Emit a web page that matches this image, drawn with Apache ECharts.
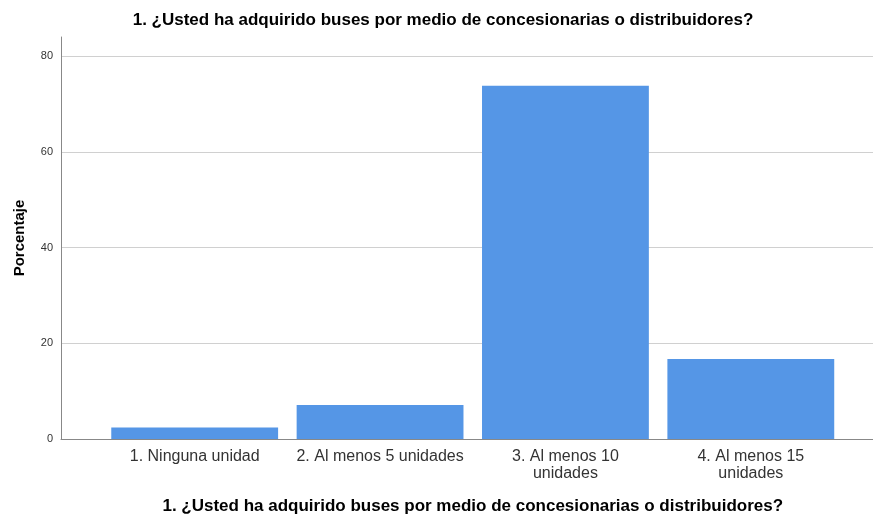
<!DOCTYPE html>
<html>
<head>
<meta charset="utf-8">
<script src="https://cdn.jsdelivr.net/npm/echarts@6/dist/echarts.min.js"></script>
<style>
  html, body { margin: 0; padding: 0; background: #fff; }
  #chart { width: 873px; height: 515px; }
</style>
</head>
<body>
<div id="chart"></div>
<script>
const titleText = "1. ¿Usted ha adquirido buses por medio de concesionarias o distribuidores?";
const categories = ["1. Ninguna unidad", "2. Al menos 5 unidades", "3. Al menos 10\nunidades", "4. Al menos 15\nunidades"];
const percentages = [2.4, 7.1, 73.8, 16.7];
const yTicks = [0, 20, 40, 60, 80];

const FONT = "Arial, 'Liberation Sans', sans-serif";

function initChart() {
  const element = document.getElementById("chart");
  const chart = echarts.init(element);
  chart.setOption({
    animation: false,
    title: {
      text: titleText,
      left: 438,
      textAlign: "center",
      top: 7,
      textStyle: { fontFamily: FONT, fontSize: 17, fontWeight: "bold", color: "#000" },
    },
    grid: [
      { left: 61, right: 0, top: 37, bottom: 76, outerBoundsMode: "none" },
      { left: 102, right: 29.5, top: 37, bottom: 76, outerBoundsMode: "none" },
    ],
    xAxis: [
      {
        type: "value",
        gridIndex: 0,
        min: 0,
        max: 1,
        axisLine: { show: true, lineStyle: { color: "#888", width: 1 } },
        axisTick: { show: false },
        axisLabel: { show: false },
        splitLine: { show: false },
      },
      {
        type: "category",
        gridIndex: 1,
        data: categories,
        axisLine: { show: false },
        axisTick: { show: false },
        axisLabel: {
          fontFamily: FONT,
          fontSize: 16,
          color: "#333",
          margin: 9,
          lineHeight: 17,
          interval: 0,
        },
        name: titleText,
        nameLocation: "middle",
        nameGap: 59,
        nameTextStyle: { fontFamily: FONT, fontSize: 17, fontWeight: "bold", color: "#000" },
      },
    ],
    yAxis: [
      {
        type: "value",
        gridIndex: 0,
        min: 0,
        max: 84,
        interval: 20,
        axisLine: { show: true, lineStyle: { color: "#888", width: 1 } },
        axisTick: { show: false },
        axisLabel: {
          fontFamily: FONT,
          fontSize: 11,
          color: "#333",
          margin: 8,
          formatter: (v) => (yTicks.includes(v) ? String(v) : ""),
        },
        splitLine: { show: true, showMaxLine: false, lineStyle: { color: "#d0d0d0", width: 1 } },
        name: "Porcentaje",
        nameLocation: "middle",
        nameGap: 34,
        nameTextStyle: { fontFamily: FONT, fontSize: 15, fontWeight: "bold", color: "#000" },
      },
      {
        type: "value",
        gridIndex: 1,
        min: 0,
        max: 84,
        interval: 20,
        axisLine: { show: false },
        axisTick: { show: false },
        axisLabel: { show: false },
        splitLine: { show: false },
      },
    ],
    series: [
      {
        name: "Porcentaje",
        type: "bar",
        xAxisIndex: 1,
        yAxisIndex: 1,
        data: percentages,
        barCategoryGap: "10%",
        itemStyle: { color: "#5596e6" },
      },
    ],
  });
}

initChart();
</script>
</body>
</html>
